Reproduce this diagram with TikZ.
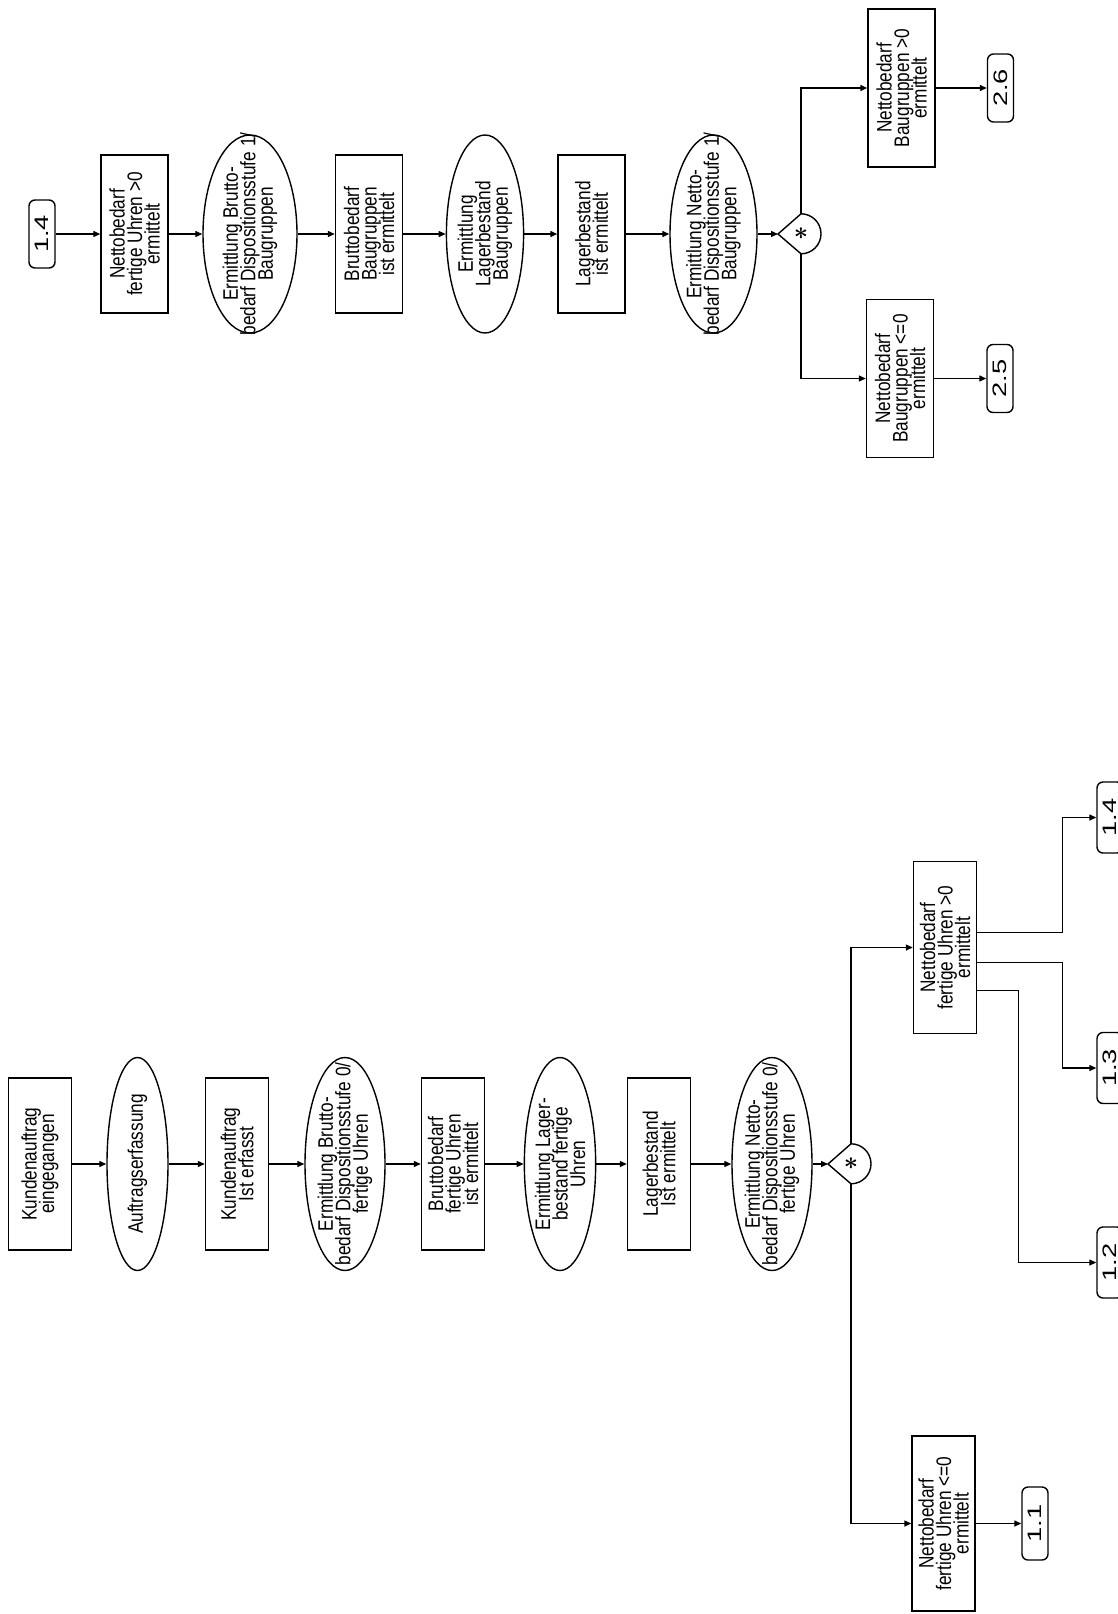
\documentclass[tikz,border=0pt]{standalone}
\usepackage{fontspec}
\setmainfont{Liberation Sans}
\newfontfamily\narrowfont[FakeStretch=0.82]{Liberation Sans}
\newfontfamily\widefont[FakeStretch=1.4]{Liberation Sans}
\usetikzlibrary{arrows.meta,shapes.geometric}

\newcommand\boxfont{\narrowfont\fontsize{21}{17.5}\selectfont\lineskiplimit=-50pt}

\begin{document}
\begin{tikzpicture}[
        x=1pt, y=-1pt,
        % Kaesten (Ereignisse) und Ellipsen (Funktionen), Text um 90 Grad gedreht
        box/.style={rectangle, draw=black, line width=1.4pt, rotate=90, align=center, inner sep=2pt, font=\boxfont},
        smallbox/.style={box, minimum width=158pt, minimum height=67pt},
        bigbox/.style={box, minimum width=172pt, minimum height=63pt},
        func/.style={ellipse, draw=black, line width=1.4pt, rotate=90, align=center, inner xsep=-60pt, inner ysep=0pt, font=\boxfont},
        % Seitenverweise
        conn/.style={rectangle, rounded corners=6pt, draw=black, line width=1.4pt, rotate=90, minimum width=68pt, minimum height=26pt, inner sep=0pt, font=\widefont\fontsize{19.5}{19.5}\selectfont},
        % Verknuepfung (Tropfenform)
        dec/.style={circle, minimum size=40pt, inner sep=0pt, font=\fontsize{34}{34}\selectfont\boldmath},
        drop/.style={line width=1.4pt},
        % Pfeile
        flowarrow/.style={-{Triangle[length=7pt,width=6pt]}, line width=1.3pt}
    ]

    \useasboundingbox (0,0) rectangle (1118,1614);
    \clip (0,0) rectangle (1118,1614);

    % ==========================================
    % Dispositionsstufe 1 (oben)
    % ==========================================
    \node[conn] (c14a) at (42,234) {1.4};
    \node[smallbox] (nplus) at (134.5,234) {Nettobedarf\\fertige Uhren >0\\ermittelt};
    \node[func, minimum width=198pt, minimum height=94pt] (ebb) at (250,234) {Ermittlung Brutto-\\bedarf Dispositionsstufe 1/\\Baugruppen};
    \node[smallbox] (bbb) at (369,234) {Bruttobedarf\\Baugruppen\\ist ermittelt};
    \node[func, minimum width=198pt, minimum height=74pt] (elb) at (485,234) {Ermittlung\\Lagerbestand\\Baugruppen};
    \node[smallbox] (lbb) at (591.5,234) {Lagerbestand\\ist ermittelt};
    \node[func, minimum width=198pt, minimum height=87pt] (enb) at (713.5,234) {Ermittlung Netto-\\bedarf Dispositionsstufe 1/\\Baugruppen};
    \node[dec] (decb) at (801,234) {$\ast$};
    \coordinate (decbtip) at ([xshift=-23pt]decb.center);
    \draw[drop] (decbtip) -- (decb.north) arc[start angle=90, end angle=-90, radius=20pt] -- cycle;
    \node[smallbox] (npb) at (901.5,88) {Nettobedarf\\Baugruppen >0\\ermittelt};
    \node[smallbox] (nmb) at (900,378.5) {Nettobedarf\\Baugruppen <=0\\ermittelt};
    \node[conn] (c26) at (1000.5,88) {2.6};
    \node[conn] (c25) at (1000,378.5) {2.5};

    \draw[flowarrow] (c14a) -- (nplus);
    \draw[flowarrow] (nplus) -- (ebb);
    \draw[flowarrow] (ebb) -- (bbb);
    \draw[flowarrow] (bbb) -- (elb);
    \draw[flowarrow] (elb) -- (lbb);
    \draw[flowarrow] (lbb) -- (enb);
    \draw[flowarrow] (enb) -- (decbtip);
    \draw[flowarrow] (decb.north) |- (npb);
    \draw[flowarrow] (decb.south) |- (nmb);
    \draw[flowarrow] (npb) -- (c26);
    \draw[flowarrow] (nmb) -- (c25);

    % ==========================================
    % Dispositionsstufe 0 (unten)
    % ==========================================
    \node[bigbox] (kdein) at (40,1164) {Kundenauftrag\\eingegangen};
    \node[func, minimum width=213pt, minimum height=61pt] (auferf) at (137.5,1164) {Auftragserfassung};
    \node[bigbox] (kderf) at (237,1164) {Kundenauftrag\\Ist erfasst};
    \node[func, minimum width=213pt, minimum height=80pt] (ebu) at (345,1164) {Ermittlung Brutto-\\bedarf Dispositionsstufe 0/\\fertige Uhren};
    \node[bigbox] (bbu) at (453,1164) {Bruttobedarf\\fertige Uhren\\ist ermittelt};
    \node[func, minimum width=213pt, minimum height=66pt] (elu) at (560,1164) {Ermittlung Lager-\\bestand fertige\\Uhren};
    \node[bigbox] (lbu) at (659,1164) {Lagerbestand\\Ist ermittelt};
    \node[func, minimum width=213pt, minimum height=80pt] (enu) at (772,1164) {Ermittlung Netto-\\bedarf Dispositionsstufe 0/\\fertige Uhren};
    \node[dec] (decu) at (851,1164) {$\ast$};
    \coordinate (decutip) at ([xshift=-23pt]decu.center);
    \draw[drop] (decutip) -- (decu.north) arc[start angle=90, end angle=-90, radius=20pt] -- cycle;
    \node[bigbox] (npu) at (945,947.5) {Nettobedarf\\fertige Uhren >0\\ermittelt};
    \node[bigbox, minimum width=175pt] (nmu) at (943.5,1523.5) {Nettobedarf\\fertige Uhren <=0\\ermittelt};
    \node[conn, minimum width=73pt] (c11) at (1035,1523.5) {1.1};
    \node[conn, minimum width=71pt] (c12) at (1110,1262.5) {1.2};
    \node[conn, minimum width=71pt] (c13) at (1110,1068) {1.3};
    \node[conn, minimum width=71pt] (c14) at (1110,817.5) {1.4};

    \draw[flowarrow] (kdein) -- (auferf);
    \draw[flowarrow] (auferf) -- (kderf);
    \draw[flowarrow] (kderf) -- (ebu);
    \draw[flowarrow] (ebu) -- (bbu);
    \draw[flowarrow] (bbu) -- (elu);
    \draw[flowarrow] (elu) -- (lbu);
    \draw[flowarrow] (lbu) -- (enu);
    \draw[flowarrow] (enu) -- (decutip);
    \draw[flowarrow] (decu.north) |- (npu);
    \draw[flowarrow] (decu.south) |- (nmu);
    \draw[flowarrow] (nmu) -- (c11);

    % Verzweigung auf die Folgeseiten
    \draw[flowarrow] ([yshift=15pt]npu.south) -- ++(85,0) |- (c14);
    \draw[flowarrow] ([yshift=-15pt]npu.south) -- ++(85,0) |- (c13);
    \draw[flowarrow] ([yshift=-43pt]npu.south) -- ++(41,0) |- (c12);

\end{tikzpicture}
\end{document}
